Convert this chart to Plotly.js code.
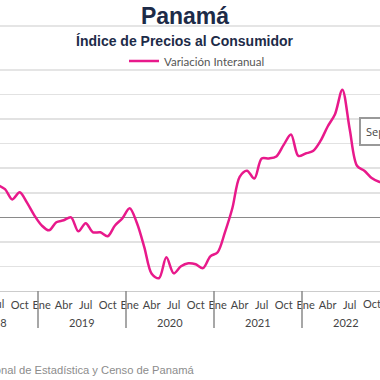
<!DOCTYPE html>
<html>
<head>
<meta charset="utf-8">
<script src="https://cdn.plot.ly/plotly-3.0.1.min.js"></script>
<style>html,body{margin:0;padding:0;background:#fff;}#chart{width:380px;height:380px;}</style>
</head>
<body>
<div id="chart"></div>
<script>
// Month index 0 = Ene 2018
const years = [2018, 2019, 2020, 2021, 2022];
const monthNames = ["Ene","Feb","Mar","Abr","May","Jun","Jul","Ago","Sep","Oct","Nov","Dic"];
const tickMonths = ["Ene","Abr","Jul","Oct"];
// Variación interanual (%)
const values2018 = [0.6, 0.7, 0.9, 1.0, 1.2, 1.45, 1.32, 1.15, 0.73, 1.02, 0.6, 0.08];
const values2019 = [-0.33, -0.53, -0.2, -0.12, 0.0, -0.57, -0.24, -0.61, -0.61, -0.77, -0.33, -0.04];
const values2020 = [0.37, -0.24, -1.22, -2.3, -2.48, -1.63, -2.28, -1.99, -1.87, -1.91, -2.07, -1.59];
const values2021 = [-1.42, -0.6, 0.37, 1.65, 1.9, 1.58, 2.4, 2.4, 2.48, 2.95, 3.37, 2.5];
const values2022 = [2.6, 2.7, 3.1, 3.7, 4.2, 5.2, 3.6, 2.1, 1.9, 1.6, 1.45, 1.4];

const seriesValues = [].concat(values2018, values2019, values2020, values2021, values2022);
const xIdx = seriesValues.map((_, i) => i);
const labels = xIdx.map(i => monthNames[i % 12] + " " + years[Math.floor(i / 12)]);

const xRange = [6.318, 58.136];
const xp = v => (v - xRange[0]) / (xRange[1] - xRange[0]);   // data -> paper fraction
const plotH = 221;
const yp = px => (291 - px) / plotH;

const allTicks = xIdx.filter(i => tickMonths.includes(monthNames[i % 12]));
const inner = v => xp(v) * 380 > 10 && xp(v) * 380 < 370;
const tickvals = allTicks.filter(inner);
const ticktext = tickvals.map(i => monthNames[i % 12]);
const edgeTicks = allTicks.filter(v => !inner(v));

const trace = {
  x: xIdx, y: seriesValues, text: labels,
  type: 'scatter', mode: 'lines', name: 'Variación Interanual',
  line: {color: '#e8198b', width: 2.5, shape: 'spline', smoothing: 0.9},
  hoverinfo: 'skip'
};

const shapes = [];
for (let k = 0; k <= years.length; k++) {
  shapes.push({type: 'line', xref: 'paper', yref: 'paper', x0: xp(12 * k - 0.5), x1: xp(12 * k - 0.5), y0: 0, y1: -37 / plotH, line: {color: '#8a8a8a', width: 1.5}});
}
shapes.push({type: 'line', xref: 'paper', yref: 'paper', x0: -0.1, x1: 1.1, y0: yp(26), y1: yp(26), line: {color: '#dddddd', width: 1.5}});
shapes.push({type: 'line', xref: 'paper', yref: 'paper', x0: -0.1, x1: 1.1, y0: yp(70), y1: yp(70), line: {color: '#dddddd', width: 1.5}});

const annotations = years.map((yr, k) => ({
  xref: 'paper', yref: 'paper', x: xp(12 * k + 5.5), y: yp(322), text: String(yr),
  showarrow: false, xanchor: 'center', yanchor: 'middle',
  font: {family: 'Lato, sans-serif', size: 11, color: '#444'}
}));
// tick labels at the cropped edges (partially visible)
edgeTicks.forEach(v => {
  annotations.push({
    xref: 'paper', yref: 'paper', x: xp(v), y: yp(303), text: monthNames[v % 12],
    showarrow: false, xanchor: 'center', yanchor: 'middle',
    font: {family: 'Lato, sans-serif', size: 11, color: '#444'}
  });
});
annotations.push({
  xref: 'paper', yref: 'paper', x: 185 / 380, y: yp(41), text: '<b>Índice de Precios al Consumidor</b>',
  showarrow: false, xanchor: 'center', yanchor: 'middle',
  font: {family: 'Liberation Sans, Arial, sans-serif', size: 14, color: '#1d2b48'}
});
annotations.push({
  xref: 'paper', yref: 'paper', x: 197 / 380, y: yp(370),
  text: 'Fuente: Instituto Nacional de Estadística y Censo de Panamá',
  showarrow: false, xanchor: 'right', yanchor: 'middle',
  font: {family: 'Liberation Sans, Arial, sans-serif', size: 11.2, color: '#8c8c8c'}
});
annotations.push({
  xref: 'paper', yref: 'paper', x: 359 / 380, y: yp(131),
  text: 'Sep 2022: 1.9 %', align: 'left',
  showarrow: false, xanchor: 'left', yanchor: 'middle',
  bgcolor: '#ffffff', bordercolor: '#999999', borderwidth: 2, borderpad: 5,
  font: {family: 'Open Sans, sans-serif', size: 11, color: '#444'}
});

const layout = {
  width: 380, height: 380,
  margin: {l: 0, r: 0, t: 70, b: 89, pad: 0},
  paper_bgcolor: '#ffffff', plot_bgcolor: '#ffffff',
  title: {
    text: '<b>Panamá</b>', x: 185 / 380, xanchor: 'center', xref: 'paper',
    y: 1 - 16 / 380, yref: 'container', yanchor: 'middle',
    font: {family: 'Liberation Sans, Arial, sans-serif', size: 23, color: '#1d2b48'}
  },
  showlegend: true,
  legend: {
    orientation: 'h', x: 124 / 380, xanchor: 'left', y: yp(61), yanchor: 'middle',
    font: {family: 'Lato, sans-serif', size: 11.5, color: '#555'},
    bgcolor: 'rgba(0,0,0,0)', itemwidth: 30
  },
  xaxis: {
    range: xRange, tickvals: tickvals, ticktext: ticktext,
    showgrid: false, zeroline: false, showline: true, linecolor: '#cccccc', linewidth: 1,
    ticks: '', ticklabelstandoff: 4,
    tickfont: {family: 'Lato, sans-serif', size: 11, color: '#444'}
  },
  yaxis: {
    range: [-3, 6], dtick: 1, showticklabels: false,
    gridcolor: '#e2e2e2', gridwidth: 1.5,
    zeroline: true, zerolinecolor: '#8a8a8a', zerolinewidth: 1.5
  },
  shapes: shapes, annotations: annotations,
  hovermode: false
};

Plotly.newPlot('chart', [trace], layout, {displayModeBar: false, staticPlot: true});
</script>
</body>
</html>
